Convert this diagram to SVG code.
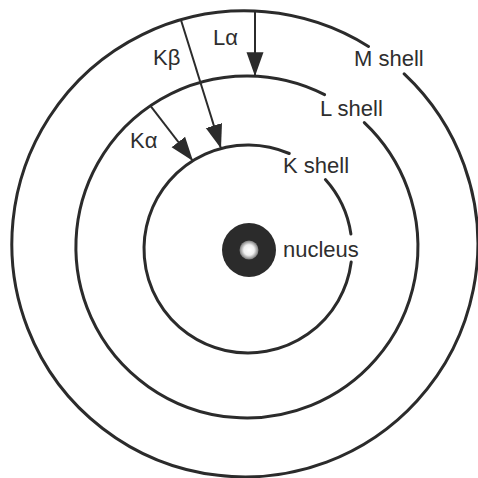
<svg xmlns="http://www.w3.org/2000/svg" width="478" height="478" viewBox="0 0 478 478">
<style>
.shell{fill:none;stroke:#2b2b2b;stroke-width:3;stroke-linecap:round}
.arr{fill:none;stroke:#2b2b2b;stroke-width:2}
text{font-family:"Liberation Sans",Arial,sans-serif;font-size:22px;fill:#2e2e2e}
</style>
<defs>
<marker id="ah" markerUnits="userSpaceOnUse" markerWidth="26" markerHeight="20" viewBox="0 0 26 20" refX="24" refY="10" orient="auto">
<path d="M0,1.5 L24,10 L0,18.5 Z" fill="#2b2b2b"/>
</marker>
<radialGradient id="hole">
<stop offset="0" stop-color="#ffffff"/>
<stop offset="0.55" stop-color="#f0f0f0"/>
<stop offset="1" stop-color="#7a7a7a"/>
</radialGradient>
</defs>
<rect width="478" height="478" fill="#ffffff"/>
<g id="m-shell">
<path class="shell" d="M404.2,73.9 A233,233 0 1 1 368.5,46.4"/>
<text x="354" y="66">M shell</text>
</g>
<g id="l-shell">
<path class="shell" d="M364.3,122.6 A171,171 0 1 1 324.6,94.6"/>
<text x="320" y="116">L shell</text>
</g>
<g id="k-shell">
<path class="shell" d="M325.4,179.6 A104,104 0 0 1 350.9,234.0 M351.2,262.0 A104,104 0 1 1 289.3,153.5"/>
<text x="283" y="173">K shell</text>
</g>
<g id="nucleus">
<circle cx="249" cy="250" r="27" fill="#2b2b2b"/>
<circle cx="249" cy="250" r="9.5" fill="url(#hole)"/>
<text x="283" y="257">nucleus</text>
</g>
<g id="connectors">
<line class="arr" x1="255" y1="11.2" x2="255" y2="76.2" marker-end="url(#ah)"/>
<line class="arr" x1="181" y1="20" x2="221" y2="148.5" marker-end="url(#ah)"/>
<line class="arr" x1="150.5" y1="105.9" x2="193" y2="161" marker-end="url(#ah)"/>
<text x="213" y="45">Lα</text>
<text x="153" y="65">Kβ</text>
<text x="130" y="148">Kα</text>
</g>
</svg>
